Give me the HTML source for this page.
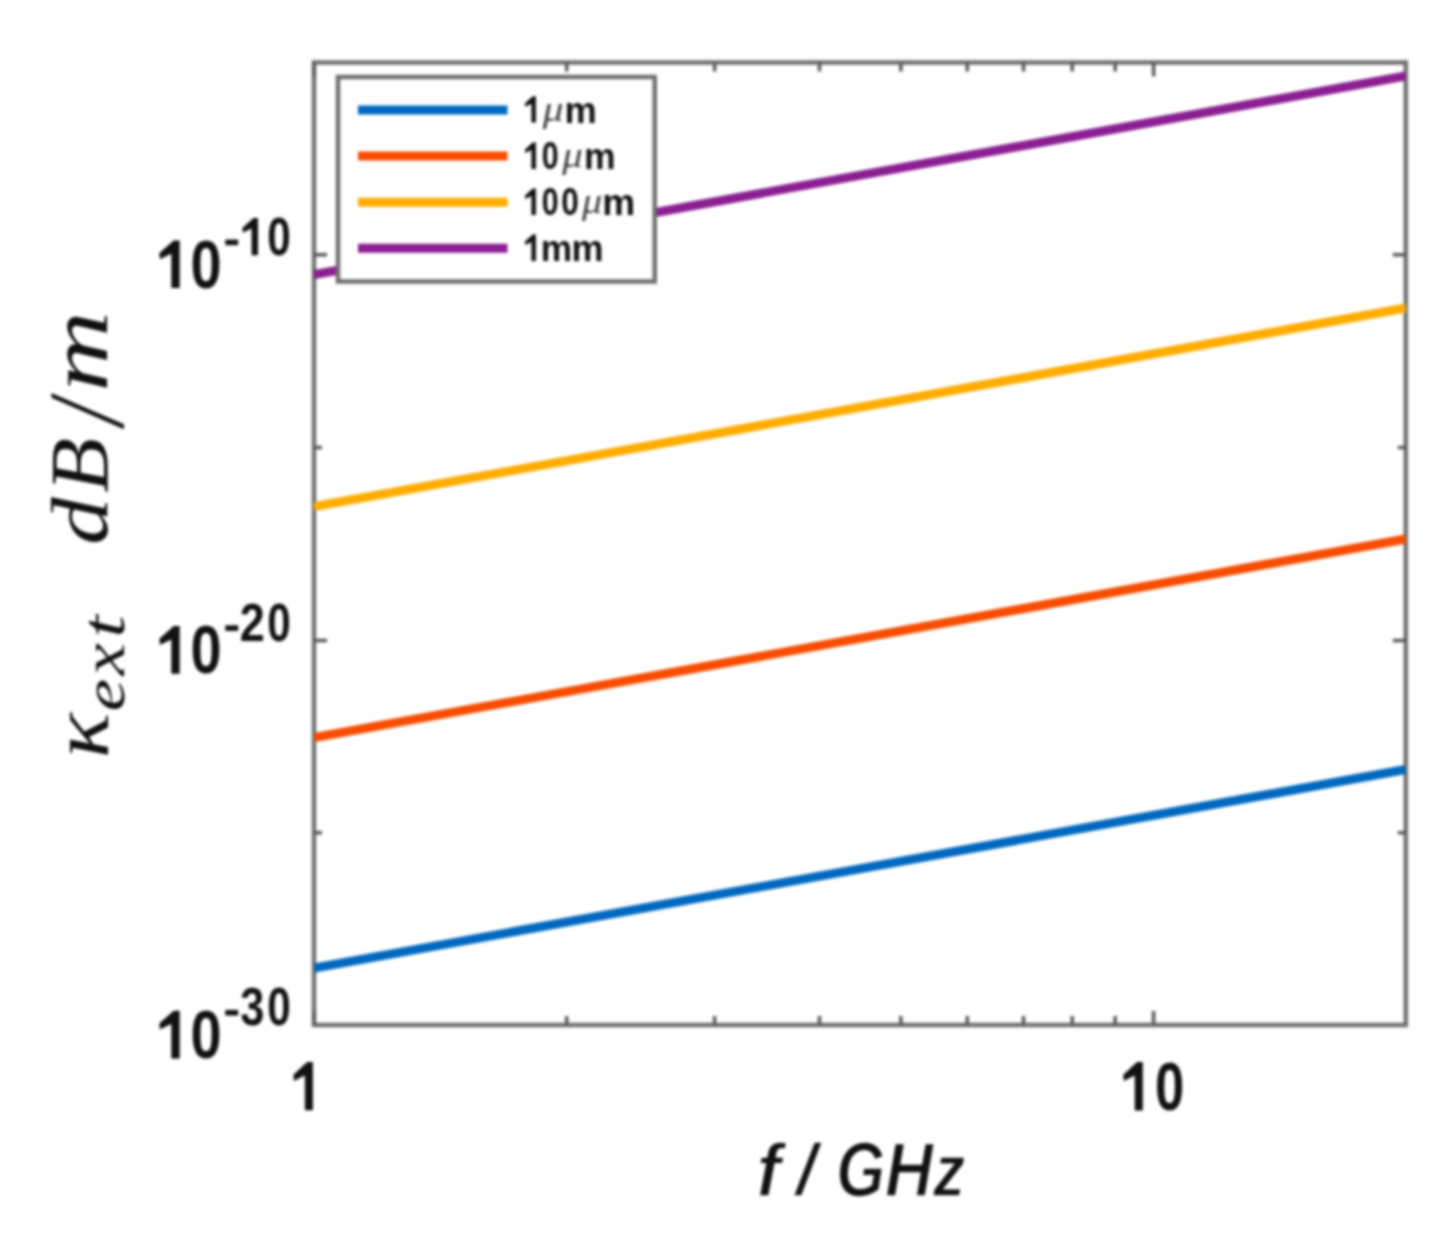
<!DOCTYPE html>
<html><head><meta charset="utf-8">
<style>
html,body{margin:0;padding:0;background:#fff;width:1440px;height:1248px;overflow:hidden}
svg{display:block;filter:blur(1.5px)}
.sb{font-family:"Liberation Sans",sans-serif;font-weight:bold}
.sbi{font-family:"Liberation Sans",sans-serif;font-weight:bold;font-style:italic}
.si{font-family:"Liberation Serif",serif;font-style:italic}
</style></head><body>
<svg width="1440" height="1248" viewBox="0 0 1440 1248">
<defs><clipPath id="ax"><rect x="314" y="62.5" width="1091.8" height="962.5"/></clipPath></defs>
<rect x="0" y="0" width="1440" height="1248" fill="#fff"/>
<g stroke="#707070" stroke-width="4.5" fill="none">
<rect x="314" y="62.5" width="1091.8" height="962.5"/>
</g>
<g stroke="#5a5a5a" stroke-width="3.5" fill="none">
<path d="M314 1025v-14M1153.6 1025v-14M566.7 1025v-9M714.6 1025v-9M819.5 1025v-9M900.9 1025v-9M967.3 1025v-9M1023.5 1025v-9M1072.2 1025v-9M1115.2 1025v-9"/>
<path d="M314 62.5v14M1153.6 62.5v14M566.7 62.5v9M714.6 62.5v9M819.5 62.5v9M900.9 62.5v9M967.3 62.5v9M1023.5 62.5v9M1072.2 62.5v9M1115.2 62.5v9"/>
<path d="M314 254.7h13M314 640.4h13M314 447.5h8M314 832.7h8"/>
<path d="M1405.8 254.7h-13M1405.8 640.4h-13M1405.8 447.5h-8M1405.8 832.7h-8"/>
</g>
<g clip-path="url(#ax)" stroke-width="9" fill="none" stroke-linecap="butt">
<line x1="314" y1="968" x2="1405.8" y2="769.5" stroke="#0068C0"/>
<line x1="314" y1="737.6" x2="1405.8" y2="539" stroke="#F84C00"/>
<line x1="314" y1="506.6" x2="1405.8" y2="308" stroke="#FFAC00"/>
<line x1="314" y1="274.6" x2="1405.8" y2="76" stroke="#8B1F92"/>
</g>
<rect x="338" y="77" width="316.7" height="204.5" fill="#fff" stroke="#6e6e6e" stroke-width="4.5"/>
<g stroke-width="9">
<line x1="358" y1="110" x2="507.5" y2="110" stroke="#0068C0"/>
<line x1="358" y1="156" x2="507.5" y2="156" stroke="#F84C00"/>
<line x1="358" y1="202.2" x2="507.5" y2="202.2" stroke="#FFAC00"/>
<line x1="358" y1="248.2" x2="507.5" y2="248.2" stroke="#8B1F92"/>
</g>
<g fill="#111">
<path d="M.425 0L.425-1L.30-1L0-.735L.01-.605L.25-.72L.25 0Z" transform="translate(159.40,288.10) scale(47.765,47.700)"/>
<text class="sb" transform="translate(190.56,287.72) scale(0.8203,1)" font-size="68.27">0</text>
<rect x="225.30" y="239.60" width="12.90" height="5.60"/>
<path d="M.425 0L.425-1L.30-1L0-.735L.01-.605L.25-.72L.25 0Z" transform="translate(242.40,255.30) scale(36.706,37.200)"/>
<text class="sb" transform="translate(267.21,255.16) scale(0.7817,1)" font-size="54.13">0</text>
<path d="M.425 0L.425-1L.30-1L0-.735L.01-.605L.25-.72L.25 0Z" transform="translate(159.40,673.80) scale(47.765,47.700)"/>
<text class="sb" transform="translate(190.56,673.42) scale(0.8203,1)" font-size="68.27">0</text>
<rect x="225.30" y="625.30" width="12.90" height="5.60"/>
<text class="sb" transform="translate(239.73,641.20) scale(0.8260,1)" font-size="54.48">2</text>
<text class="sb" transform="translate(267.21,640.86) scale(0.7817,1)" font-size="54.13">0</text>
<path d="M.425 0L.425-1L.30-1L0-.735L.01-.605L.25-.72L.25 0Z" transform="translate(159.40,1058.40) scale(47.765,47.700)"/>
<text class="sb" transform="translate(190.56,1058.02) scale(0.8203,1)" font-size="68.27">0</text>
<rect x="225.30" y="1009.90" width="12.90" height="5.60"/>
<text class="sb" transform="translate(240.32,1025.26) scale(0.8084,1)" font-size="53.71">3</text>
<text class="sb" transform="translate(267.21,1025.46) scale(0.7817,1)" font-size="54.13">0</text>
<path d="M.425 0L.425-1L.30-1L0-.735L.01-.605L.25-.72L.25 0Z" transform="translate(293.40,1110.20) scale(45.882,48.200)"/>
<path d="M.425 0L.425-1L.30-1L0-.735L.01-.605L.25-.72L.25 0Z" transform="translate(1123.30,1110.40) scale(45.882,48.500)"/>
<text class="sb" transform="translate(1155.09,1110.01) scale(0.7631,1)" font-size="68.98">0</text>
<path d="M.425 0L.425-1L.30-1L0-.735L.01-.605L.25-.72L.25 0Z" transform="translate(525.00,122.60) scale(25.647,26.300)"/>
<text class="si" transform="translate(542.80,120.82) scale(1.1769,1)" font-size="35.26" fill="#404040">μ</text>
<text class="sb" transform="translate(564.44,122.60) scale(0.9619,1)" font-size="37.77">m</text>
<path d="M.425 0L.425-1L.30-1L0-.735L.01-.605L.25-.72L.25 0Z" transform="translate(525.00,168.90) scale(25.647,26.300)"/>
<text class="sb" transform="translate(541.79,168.82) scale(0.7973,1)" font-size="38.02">0</text>
<text class="si" transform="translate(562.20,167.12) scale(1.1587,1)" font-size="35.26" fill="#404040">μ</text>
<text class="sb" transform="translate(583.99,168.90) scale(0.9410,1)" font-size="37.77">m</text>
<path d="M.425 0L.425-1L.30-1L0-.735L.01-.605L.25-.72L.25 0Z" transform="translate(525.00,214.90) scale(25.647,26.300)"/>
<text class="sb" transform="translate(541.79,214.82) scale(0.7973,1)" font-size="38.02">0</text>
<text class="sb" transform="translate(561.34,214.82) scale(0.8306,1)" font-size="38.02">0</text>
<text class="si" transform="translate(582.00,213.12) scale(1.1405,1)" font-size="35.26" fill="#404040">μ</text>
<text class="sb" transform="translate(602.29,214.90) scale(0.9827,1)" font-size="37.77">m</text>
<path d="M.425 0L.425-1L.30-1L0-.735L.01-.605L.25-.72L.25 0Z" transform="translate(525.00,260.90) scale(25.647,26.300)"/>
<text class="sb" transform="translate(540.71,260.90) scale(0.9341,1)" font-size="37.77">m</text>
<text class="sb" transform="translate(571.46,260.90) scale(0.9549,1)" font-size="37.77">m</text>
<text class="sbi" transform="translate(756.48,1195.60) scale(0.9910,1)" font-size="73.24" stroke="#fff" stroke-width="1.6">f</text>
<text class="sbi" transform="translate(796.11,1194.75) scale(0.9956,1)" font-size="72.62" stroke="#fff" stroke-width="1.6">/</text>
<text class="sbi" transform="translate(836.26,1196.23) scale(0.8122,1)" font-size="77.31" stroke="#fff" stroke-width="1.6">G</text>
<text class="sbi" transform="translate(884.93,1195.60) scale(0.8735,1)" font-size="76.22" stroke="#fff" stroke-width="1.6">H</text>
<text class="sbi" transform="translate(933.12,1195.60) scale(0.8772,1)" font-size="73.55" stroke="#fff" stroke-width="1.6">z</text>
</g>
<g fill="#111" stroke="#fff" stroke-width="0" transform="translate(107.2,754.6) rotate(-90)">
<text class="si" transform="translate(-3.56,0.30) scale(1.1417,1)" font-size="83.04">κ</text>
<text class="si" transform="translate(43.41,16.51) scale(1.2315,1)" font-size="59.17">e</text>
<text class="si" transform="translate(79.21,17.10) scale(1.1770,1)" font-size="61.74">x</text>
<text class="si" transform="translate(116.96,16.78) scale(1.3029,1)" font-size="62.01">t</text>
<text class="si" transform="translate(209.86,-0.10) scale(1.1852,1)" font-size="80.00">d</text>
<text class="si" transform="translate(261.80,-0.21) scale(1.0897,1)" font-size="82.43">B</text>
<text stroke="none" class="si" transform="translate(329.66,15.32) scale(0.8358,1)" font-size="108.06">/</text>
<text class="si" transform="translate(362.91,0.10) scale(1.3365,1)" font-size="83.62">m</text>
</g>
</svg>
</body></html>
